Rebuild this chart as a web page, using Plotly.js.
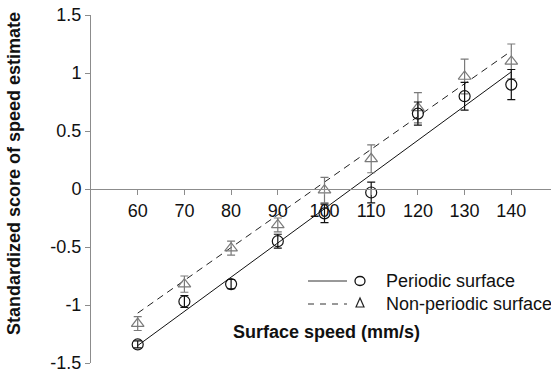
<!DOCTYPE html>
<html>
<head>
<meta charset="utf-8">
<script src="https://cdn.plot.ly/plotly-3.0.1.min.js"></script>
<style>html,body{margin:0;padding:0;background:#fff;}#chart{width:551px;height:374px;}</style>
</head>
<body>
<div id="chart"></div>
<script>
// ---- data ----
const speeds = [60, 70, 80, 90, 100, 110, 120, 130, 140];
const periodicScore = [-1.34, -0.97, -0.82, -0.45, -0.21, -0.03, 0.65, 0.80, 0.90];
const periodicErr   = [0.03, 0.05, 0.04, 0.06, 0.08, 0.09, 0.10, 0.12, 0.13];
const nonPeriodicScore = [-1.16, -0.82, -0.51, -0.31, -0.01, 0.26, 0.70, 0.97, 1.10];
const nonPeriodicErr   = [0.06, 0.07, 0.06, 0.06, 0.11, 0.12, 0.13, 0.15, 0.15];
const fitX = [60, 140];
const periodicFit = [-1.35, 1.01];
const nonPeriodicFit = [-1.07, 1.19];
const xTicks = [60, 70, 80, 90, 100, 110, 120, 130, 140];
const yTicks = [-1.5, -1, -0.5, 0, 0.5, 1, 1.5];
const yTickText = ['-1.5', '-1', '-0.5', '0', '0.5', '1', '1.5'];
const seriesNames = ['Periodic surface', 'Non-periodic surface'];
const xTitle = 'Surface speed (mm/s)';
const yTitle = 'Standardized score of speed estimate';

// ---- layout geometry ----
const W = 551, H = 374, L = 91, T = 15, R = 0, B = 11;
const PW = W - L - R, PH = H - T - B;
const px = p => (p - L) / PW;
const py = p => (H - B - p) / PH;

const FONT = 'Liberation Sans, Arial, sans-serif';
const GREY = '#7a7a7a';
const AXIS = '#8c8c8c';

const traces = [
  {x: fitX, y: periodicFit, mode: 'lines', line: {color: '#111', width: 1}, hoverinfo: 'skip', showlegend: false},
  {x: fitX, y: nonPeriodicFit, mode: 'lines', line: {color: '#222', width: 1, dash: '7px,5px'}, hoverinfo: 'skip', showlegend: false},
  {x: speeds, y: nonPeriodicScore, mode: 'markers', name: seriesNames[1], showlegend: false,
   marker: {symbol: 'triangle-up-open', size: 11, color: GREY, line: {width: 1.2, color: GREY}},
   error_y: {type: 'data', array: nonPeriodicErr, visible: true, color: GREY, thickness: 1.2, width: 4}},
  {x: speeds, y: periodicScore, mode: 'markers', name: seriesNames[0], showlegend: false,
   marker: {symbol: 'circle-open', size: 11, color: '#111', line: {width: 1.2, color: '#111'}},
   error_y: {type: 'data', array: periodicErr, visible: true, color: '#111', thickness: 1.2, width: 4}}
];

const shapes = [
  {type: 'line', xref: 'paper', yref: 'paper', x0: px(308), x1: px(347), y0: py(281), y1: py(281), line: {color: '#333', width: 1}},
  {type: 'circle', xref: 'paper', yref: 'paper', x0: px(355), x1: px(365), y0: py(276.5), y1: py(285.5), line: {color: '#111', width: 1.3}},
  {type: 'line', xref: 'paper', yref: 'paper', x0: px(308), x1: px(347), y0: py(304), y1: py(304), line: {color: '#333', width: 1, dash: '6px,6px'}},
  {type: 'path', xref: 'paper', yref: 'paper',
   path: 'M ' + px(356) + ' ' + py(307) + ' L ' + px(360) + ' ' + py(298) + ' L ' + px(364) + ' ' + py(307) + ' Z',
   line: {color: '#222', width: 1.2}}
];

const annotations = [
  {xref: 'paper', yref: 'paper', x: px(384), y: py(281), text: seriesNames[0], showarrow: false, xanchor: 'left', yanchor: 'middle', font: {family: FONT, size: 18, color: '#111'}},
  {xref: 'paper', yref: 'paper', x: px(384), y: py(304), text: seriesNames[1], showarrow: false, xanchor: 'left', yanchor: 'middle', font: {family: FONT, size: 18, color: '#111'}},
  {xref: 'paper', yref: 'paper', x: px(326), y: py(332), text: '<b>' + xTitle + '</b>', showarrow: false, xanchor: 'center', yanchor: 'middle', font: {family: FONT, size: 18, color: '#111'}},
  {xref: 'paper', yref: 'paper', x: px(14), y: py(174), text: '<b>' + yTitle + '</b>', textangle: -90, showarrow: false, xanchor: 'center', yanchor: 'middle', font: {family: FONT, size: 18, color: '#111'}}
];

const layout = {
  width: W, height: H,
  margin: {l: L, r: R, t: T, b: B, pad: 0},
  paper_bgcolor: '#fff', plot_bgcolor: '#fff',
  showlegend: false,
  font: {family: FONT, size: 18, color: '#111'},
  xaxis: {
    range: [50, 148.5], anchor: 'free', position: 0.5,
    tickmode: 'array', tickvals: xTicks, ticks: 'outside', ticklen: 5, tickcolor: AXIS, tickwidth: 1,
    showline: true, linecolor: AXIS, linewidth: 1, showgrid: false, zeroline: false,
    tickfont: {family: FONT, size: 18, color: '#111'}, fixedrange: true
  },
  yaxis: {
    range: [-1.5, 1.5],
    tickmode: 'array', tickvals: yTicks, ticktext: yTickText, ticks: 'outside', ticklen: 5, tickcolor: AXIS, tickwidth: 1,
    showline: true, linecolor: AXIS, linewidth: 1, showgrid: false, zeroline: false,
    tickfont: {family: FONT, size: 18, color: '#111'}, fixedrange: true
  },
  shapes: shapes,
  annotations: annotations
};

Plotly.newPlot('chart', traces, layout, {displayModeBar: false, staticPlot: true});
</script>
</body>
</html>
